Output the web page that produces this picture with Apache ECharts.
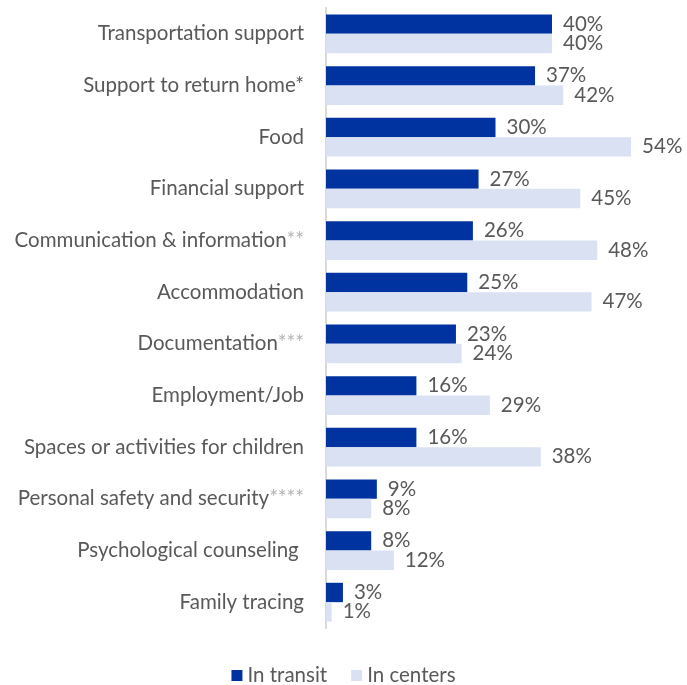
<!DOCTYPE html>
<html><head><meta charset="utf-8">
<script src="https://cdn.jsdelivr.net/npm/echarts@6/dist/echarts.min.js"></script>
<style>html,body{margin:0;padding:0;background:#fff}#c{width:687px;height:685px}</style>
</head><body><div id="c"></div>
<script>
const categories = ["Transportation support","Support to return home*","Food","Financial support","Communication & information**","Accommodation","Documentation***","Employment/Job","Spaces or activities for children","Personal safety and security****","Psychological counseling ","Family tracing"];
const inTransit = [40,37,30,27,26,25,23,16,16,9,8,3];
const inCenters = [40,42,54,45,48,47,24,29,38,8,12,1];
const seriesNames = ["In transit","In centers"];

const chart = echarts.init(document.getElementById('c'));
const font = "Lato";
const fs = 20.5;
const lbl = {show:true, position:'right', distance:11, formatter:p=>p.value+'%', color:'#595959', fontSize:fs, fontFamily:font};
chart.setOption({
  animation:false,
  grid:{left:326, top:8, bottom:57, width:339},
  xAxis:{type:'value', min:0, max:60, show:false},
  yAxis:{type:'category', data:categories, inverse:true,
    axisLine:{show:true, lineStyle:{color:'#d9d9d9', width:2}},
    axisTick:{show:false},
    axisLabel:{color:'#595959', fontSize:fs, fontFamily:font, margin:22,
      formatter:v=>{
        const m = v.match(/^(.*?)(\*+)$/);
        if (m && m[2].length>1) return m[1]+'{s|'+m[2]+'}';
        return v;
      },
      rich:{s:{color:'#b3b3b3', fontSize:fs, fontFamily:font}}}},
  legend:{top:660, left:'center', itemWidth:11, itemHeight:11, itemGap:24,
    icon:'rect', textStyle:{color:'#595959', fontSize:fs, fontFamily:font}},
  series:[
    {name:seriesNames[0], type:'bar', data:inTransit, itemStyle:{color:'#0033A0'}, barGap:'0%', barCategoryGap:'25%', label:lbl},
    {name:seriesNames[1], type:'bar', data:inCenters, itemStyle:{color:'#D9E1F2'}, label:lbl}
  ]
});
</script></body></html>
